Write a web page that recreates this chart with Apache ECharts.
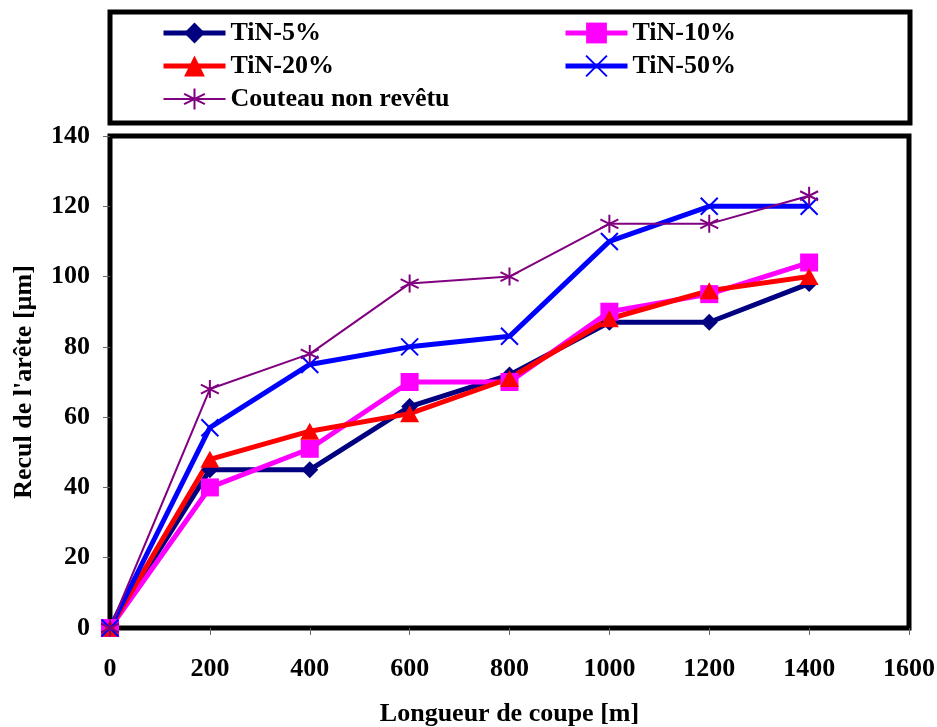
<!DOCTYPE html>
<html><head><meta charset="utf-8">
<script src="https://cdn.jsdelivr.net/npm/echarts@6/dist/echarts.min.js"></script>
<style>html,body{margin:0;padding:0;background:#fff}#c{width:937px;height:727px}</style>
</head><body><div id="c"></div>
<script>
const xValues = [0, 200, 400, 600, 800, 1000, 1200, 1400];
const tin5 = [0, 45, 45, 63, 72, 87, 87, 98];
const tin10 = [0, 40, 51, 70, 70, 90, 95, 104];
const tin20 = [0, 48, 56, 61, 71, 88, 96, 100];
const tin50 = [0, 57, 75, 80, 83, 110, 120, 120];
const couteau = [0, 68, 78, 98, 100, 115, 115, 123];
const seriesNames = ['TiN-5%', 'TiN-10%', 'TiN-20%', 'TiN-50%', 'Couteau non revêtu'];
const xTitle = 'Longueur de coupe [m]';
const yTitle = "Recul de l'arête [µm]";

const FONT = '"Liberation Serif", "Times New Roman", serif';
const FS = 26;
const pair = arr => xValues.map((x, i) => [x, arr[i]]);
const XPATH = 'path://M0,0L10,10M10,0L0,10';
const STAR = 'path://M5,0L5,10M0.7,2.5L9.3,7.5M9.3,2.5L0.7,7.5';
const colors = ['#000080', '#FF00FF', '#FF0000', '#0000FF', '#800080'];
const widths = [5, 5, 5, 5, 2];

const chart = echarts.init(document.getElementById('c'), null, {renderer: 'canvas'});
const legendText = {fontFamily: FONT, fontWeight: 'bold', fontSize: FS, color: '#000'};
const legItem = i => ({name: seriesNames[i], lineStyle: {width: widths[i], color: colors[i]}});
chart.setOption({
  animation: false,
  backgroundColor: '#fff',
  graphic: [{
    type: 'rect', shape: {x: 110, y: 12, width: 800, height: 111},
    style: {fill: 'none', stroke: '#000', lineWidth: 5}, z: 0
  }],
  legend: [{
    data: [legItem(0), legItem(2), legItem(4)],
    orient: 'vertical', left: 156, top: 15, itemWidth: 62, itemHeight: 26, itemGap: 7,
    textStyle: legendText
  }, {
    data: [legItem(1), legItem(3)],
    orient: 'vertical', left: 558, top: 15, itemWidth: 62, itemHeight: 26, itemGap: 7,
    textStyle: legendText
  }],
  grid: {left: 110, right: 28, top: 136, bottom: 99, show: true, borderColor: '#000', borderWidth: 5,
    outerBoundsMode: 'none', containLabel: false},
  xAxis: {
    type: 'value', min: 0, max: 1600, interval: 200,
    name: xTitle, nameLocation: 'middle', nameGap: 73,
    nameTextStyle: {fontFamily: FONT, fontWeight: 'bold', fontSize: FS, color: '#000'},
    axisLine: {show: false},
    axisTick: {show: true, length: 7, lineStyle: {color: '#666', width: 1}},
    axisLabel: {fontFamily: FONT, fontWeight: 'bold', fontSize: FS, color: '#000', margin: 28,
      formatter: v => String(v)},
    splitLine: {show: false}
  },
  yAxis: {
    type: 'value', min: 0, max: 140, interval: 20,
    name: yTitle, nameLocation: 'middle', nameGap: 73,
    nameTextStyle: {fontFamily: FONT, fontWeight: 'bold', fontSize: FS, color: '#000'},
    axisLine: {show: false},
    axisTick: {show: true, length: 7, lineStyle: {color: '#666', width: 1}},
    axisLabel: {fontFamily: FONT, fontWeight: 'bold', fontSize: FS, color: '#000', margin: 20,
      formatter: v => String(v)},
    splitLine: {show: false}
  },
  series: [
    {name: seriesNames[0], type: 'line', data: pair(tin5), symbol: 'diamond', symbolSize: 17,
     lineStyle: {color: colors[0], width: widths[0]}, itemStyle: {color: colors[0]}},
    {name: seriesNames[1], type: 'line', data: pair(tin10), symbol: 'rect', symbolSize: 18,
     lineStyle: {color: colors[1], width: widths[1]}, itemStyle: {color: colors[1]}},
    {name: seriesNames[2], type: 'line', data: pair(tin20), symbol: 'triangle', symbolSize: [19, 17],
     lineStyle: {color: colors[2], width: widths[2]}, itemStyle: {color: colors[2]}},
    {name: seriesNames[3], type: 'line', data: pair(tin50), symbol: XPATH, symbolSize: 17,
     lineStyle: {color: colors[3], width: widths[3]},
     itemStyle: {color: 'none', borderColor: colors[3], borderWidth: 2}},
    {name: seriesNames[4], type: 'line', data: pair(couteau), symbol: STAR, symbolSize: 18,
     lineStyle: {color: colors[4], width: widths[4]},
     itemStyle: {color: 'none', borderColor: colors[4], borderWidth: 2}}
  ]
});
</script></body></html>
